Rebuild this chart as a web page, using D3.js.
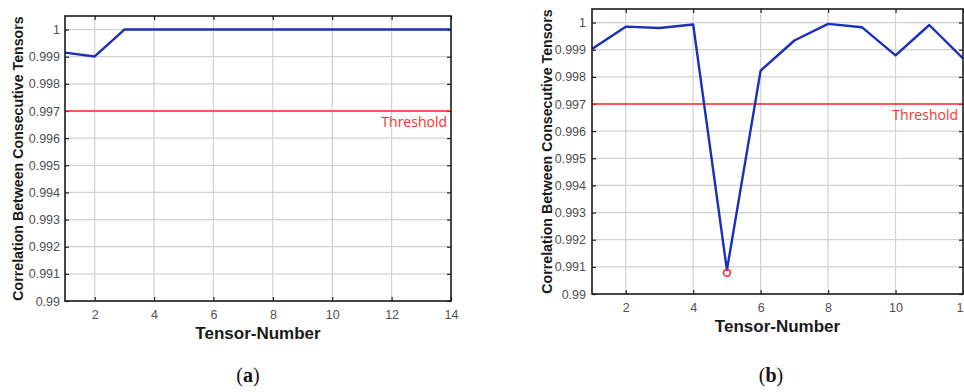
<!DOCTYPE html>
<html>
<head>
<meta charset="utf-8">
<script src="https://cdn.jsdelivr.net/npm/d3@7"></script>
<style>
  html, body { margin: 0; padding: 0; background: #fff; }
  svg { display: block; }
</style>
</head>
<body>
<svg id="fig" width="964" height="392"></svg>
<script>
// Correlation between consecutive tensors, two runs
const tensorsA = [1, 2, 3, 4, 5, 6, 7, 8, 9, 10, 11, 12, 13, 14];
const corrA = [0.99915, 0.99901, 1.0, 1.0, 1.0, 1.0, 1.0, 1.0, 1.0, 1.0, 1.0, 1.0, 1.0, 1.0];

const tensorsB = [1, 2, 3, 4, 5, 6, 7, 8, 9, 10, 11, 12];
const corrB = [0.99903, 0.99985, 0.9998, 0.99993, 0.99088, 0.99823, 0.99934, 0.99995, 0.99983, 0.99879, 0.99991, 0.99868];
const minMarkB = [{ x: 5, y: 0.99078 }];

const threshold = 0.997;
const yTicks = [0.99, 0.991, 0.992, 0.993, 0.994, 0.995, 0.996, 0.997, 0.998, 0.999, 1];
const xTicksA = [2, 4, 6, 8, 10, 12, 14];
const xTicksB = [2, 4, 6, 8, 10, 12];
const yTitle = "Correlation Between Consecutive Tensors";
const xTitle = "Tensor-Number";
const thresholdText = "Threshold";
const captions = ["a", "b"];

const svg = d3.select("#fig");
const fmtY = d => (d === 1 ? "1" : d === 0.99 ? "0.99" : d3.format(".3f")(d));

function panel(o) {
  const x = d3.scaleLinear().domain(o.xDomain).range([o.left, o.right]);
  const y = d3.scaleLinear().domain([0.99, 1.0005]).range([o.bottom, o.top]);
  const g = svg.append("g");

  const clipId = "clip-" + o.key;
  g.append("clipPath").attr("id", clipId)
    .append("rect").attr("x", o.left).attr("y", o.top)
    .attr("width", o.right - o.left).attr("height", o.bottom - o.top);

  // grid
  g.append("g").selectAll("line").data(o.xTicks.filter(t => x(t) < o.right - 1)).join("line")
    .attr("x1", d => x(d)).attr("x2", d => x(d))
    .attr("y1", o.top).attr("y2", o.bottom)
    .attr("stroke", "#d2d2d2").attr("stroke-width", 1.2);
  g.append("g").selectAll("line").data(yTicks.slice(1)).join("line")
    .attr("x1", o.left).attr("x2", o.right)
    .attr("y1", d => y(d)).attr("y2", d => y(d))
    .attr("stroke", "#d2d2d2").attr("stroke-width", 1.2);

  // axes with inward ticks
  const tickStyle = sel => {
    sel.select(".domain").remove();
    sel.selectAll(".tick line").attr("stroke", "#222").attr("stroke-width", 1.2);
    sel.selectAll("text").attr("fill", "#505050")
      .style("font-family", "'Liberation Sans', Arial, sans-serif").style("font-size", "12.5px");
  };
  g.append("g").attr("transform", `translate(0,${o.bottom})`)
    .call(d3.axisBottom(x).tickValues(o.xTicks).tickSizeInner(-4).tickSizeOuter(0).tickPadding(9))
    .call(tickStyle);
  g.append("g").attr("transform", `translate(0,${o.top})`)
    .call(d3.axisTop(x).tickValues(o.xTicks).tickSizeInner(-4).tickSizeOuter(0).tickFormat(""))
    .call(tickStyle);
  g.append("g").attr("transform", `translate(${o.left},0)`)
    .call(d3.axisLeft(y).tickValues(yTicks).tickFormat(fmtY).tickSizeInner(-4).tickSizeOuter(0).tickPadding(o.yPad))
    .call(tickStyle);
  g.append("g").attr("transform", `translate(${o.right},0)`)
    .call(d3.axisRight(y).tickValues(yTicks).tickFormat("").tickSizeInner(-4).tickSizeOuter(0))
    .call(tickStyle);

  // threshold
  g.append("line")
    .attr("x1", o.left).attr("x2", o.right)
    .attr("y1", y(threshold)).attr("y2", y(threshold))
    .attr("stroke", "#ff2a2a").attr("stroke-width", 1.6);
  g.append("text")
    .attr("x", o.thrX).attr("y", y(threshold) + 15.5)
    .attr("text-anchor", "end")
    .attr("fill", "#ff3030")
    .style("font-family", "'Open Sans', 'Noto Sans', sans-serif").style("font-size", "14px")
    .text(thresholdText);

  // series
  const line = d3.line().x((d, i) => x(o.xs[i])).y(d => y(d));
  g.append("path").datum(o.ys)
    .attr("clip-path", `url(#${clipId})`)
    .attr("d", line)
    .attr("fill", "none").attr("stroke", "#1a30bb").attr("stroke-width", 2.4)
    .attr("stroke-linejoin", "round");

  if (o.marks) {
    g.append("g").selectAll("circle").data(o.marks).join("circle")
      .attr("cx", d => x(d.x)).attr("cy", d => y(d.y)).attr("r", 3.4)
      .attr("fill", "none").attr("stroke", "#ff2a2a").attr("stroke-width", 1.6);
  }

  // box
  g.append("rect")
    .attr("x", o.left).attr("y", o.top)
    .attr("width", o.right - o.left).attr("height", o.bottom - o.top)
    .attr("fill", "none").attr("stroke", "#1a1a1a").attr("stroke-width", 1.6);

  // titles
  g.append("text")
    .attr("transform", `translate(${o.yTitleX},${(o.top + o.bottom) / 2}) rotate(-90)`)
    .attr("text-anchor", "middle").attr("dominant-baseline", "central")
    .attr("fill", "#1a1a1a")
    .style("font-family", "'Liberation Sans', Arial, sans-serif").style("font-size", "14.2px").style("font-weight", "bold")
    .text(yTitle);
  g.append("text")
    .attr("x", (o.left + o.right) / 2).attr("y", o.bottom + 38)
    .attr("text-anchor", "middle")
    .attr("fill", "#1a1a1a")
    .style("font-family", "'Liberation Sans', Arial, sans-serif").style("font-size", "17px").style("font-weight", "bold")
    .text(xTitle);

  // caption
  const cap = svg.append("text")
    .attr("x", o.capX).attr("y", 382)
    .attr("text-anchor", "middle")
    .attr("fill", "#111")
    .style("font-family", "'Liberation Serif', 'DejaVu Serif', serif").style("font-size", "20px");
  cap.append("tspan").text("(");
  cap.append("tspan").style("font-weight", "bold").text(o.caption);
  cap.append("tspan").text(")");
}

panel({
  key: "a", xs: tensorsA, ys: corrA, xDomain: [1, 14], xTicks: xTicksA,
  left: 65, right: 451, top: 16, bottom: 301, yPad: 5,
  thrX: 447, yTitleX: 18, capX: 248, caption: captions[0]
});
panel({
  key: "b", xs: tensorsB, ys: corrB, xDomain: [1, 12], xTicks: xTicksB, marks: minMarkB,
  left: 592, right: 963, top: 9, bottom: 294, yPad: 6,
  thrX: 958, yTitleX: 547, capX: 771, caption: captions[1]
});
</script>
</body>
</html>
